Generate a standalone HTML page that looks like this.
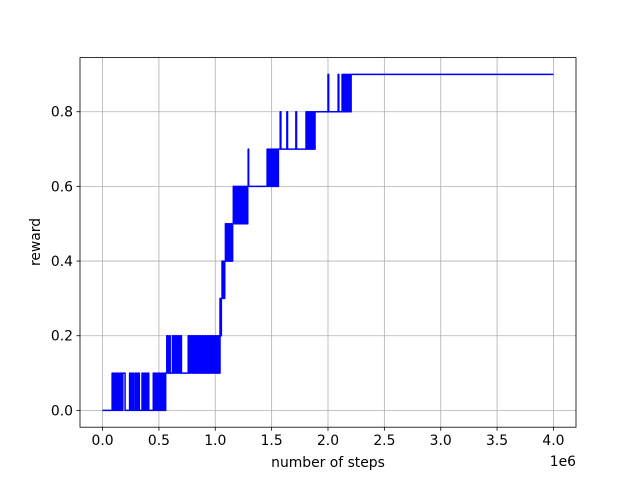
<!DOCTYPE html>
<html><head><meta charset="utf-8"><style>
html,body{margin:0;padding:0;background:#fff;}
svg{display:block;font-family:"DejaVu Sans","Liberation Sans",sans-serif;}
</style></head><body>
<svg id="chart" width="640" height="480">
<rect x="0" y="0" width="640" height="480" fill="#fff"/>
<g id="grid"></g>
<g id="series"></g>
<rect x="80" y="57.6" width="496" height="369.6" fill="none" stroke="#000" stroke-width="0.8"/>
<g id="xticks"></g>
<g id="yticks"></g>
<text x="328" y="467" font-size="13.9" text-anchor="middle">number of steps</text>
<text x="576" y="466" font-size="13.9" text-anchor="end">1e6</text>
<text transform="translate(40,242) rotate(-90)" font-size="13.9" text-anchor="middle">reward</text>
</svg>
<script>
const xTicks = [0, 0.5, 1.0, 1.5, 2.0, 2.5, 3.0, 3.5, 4.0];
const xTickLabels = ["0.0","0.5","1.0","1.5","2.0","2.5","3.0","3.5","4.0"];
const yTicks = [0, 0.2, 0.4, 0.6, 0.8];
const yTickLabels = ["0.0","0.2","0.4","0.6","0.8"];
const steps = [
0,
0.085,0.085,0.097,0.097,0.109,0.109,0.121,0.121,
0.133,0.133,0.145,0.145,0.157,0.157,0.169,0.169,
0.18,0.18,0.2,0.2,
0.24,0.24,0.252,0.252,0.264,0.264,0.276,0.276,
0.29,0.29,0.302,0.302,0.314,0.314,0.326,0.326,
0.35,0.35,0.362,0.362,0.374,0.374,0.386,0.386,
0.398,0.398,0.41,0.41,
0.45,0.45,0.462,0.462,0.474,0.474,0.486,0.486,
0.498,0.498,0.51,0.51,0.522,0.522,0.534,0.534,
0.546,0.546,0.558,0.558,
0.56,0.56,
0.57,0.57,0.582,0.582,0.594,0.594,0.6,0.6,
0.62,0.62,0.632,0.632,0.644,0.644,0.656,0.656,
0.668,0.668,0.68,0.68,0.692,0.692,0.7,0.7,
0.76,0.76,0.772,0.772,0.784,0.784,0.796,0.796,
0.808,0.808,0.82,0.82,0.832,0.832,0.844,0.844,
0.856,0.856,0.868,0.868,0.88,0.88,0.892,0.892,
0.904,0.904,0.916,0.916,0.928,0.928,0.94,0.94,
0.952,0.952,0.964,0.964,0.976,0.976,0.988,0.988,
1.0,1.0,1.012,1.012,1.024,1.024,1.036,1.036,
1.042,1.042,1.048,1.048,1.054,1.054,
1.06,1.06,1.066,1.066,1.072,1.072,1.078,1.078,1.084,1.084,
1.09,1.09,1.098,1.098,1.106,1.106,1.114,1.114,
1.122,1.122,1.13,1.13,1.138,1.138,1.146,1.146,1.154,1.154,
1.16,1.16,1.168,1.168,1.176,1.176,1.184,1.184,
1.192,1.192,1.2,1.2,1.208,1.208,1.216,1.216,
1.224,1.224,1.232,1.232,1.24,1.24,1.25,1.25,
1.258,1.258,1.266,1.266,1.274,1.274,1.282,1.282,
1.288,1.288,1.292,1.292,1.296,1.296,
1.46,1.46,1.47,1.47,1.48,1.48,1.49,1.49,
1.5,1.5,1.51,1.51,1.52,1.52,1.53,1.53,
1.54,1.54,1.55,1.55,1.56,1.56,
1.576,1.576,1.582,1.582,1.635,1.635,1.641,1.641,
1.715,1.715,1.721,1.721,
1.805,1.805,1.813,1.813,1.821,1.821,1.829,1.829,
1.837,1.837,1.845,1.845,1.853,1.853,1.861,1.861,
1.869,1.869,1.877,1.877,1.885,1.885,
2.0,2.0,2.006,2.006,2.09,2.09,2.096,2.096,
2.125,2.125,2.135,2.135,2.145,2.145,2.155,2.155,
2.165,2.165,2.175,2.175,2.185,2.185,2.195,2.195,
2.205,2.205,
4.0
];
const rewards = [
0,
0,0.1,0.1,0,0,0.1,0.1,0,
0,0.1,0.1,0,0,0.1,0.1,0,
0,0.1,0.1,0,
0,0.1,0.1,0,0,0.1,0.1,0,
0,0.1,0.1,0,0,0.1,0.1,0,
0,0.1,0.1,0,0,0.1,0.1,0,
0,0.1,0.1,0,
0,0.1,0.1,0,0,0.1,0.1,0,
0,0.1,0.1,0,0,0.1,0.1,0,
0,0.1,0.1,0,
0,0.1,
0.1,0.2,0.2,0.1,0.1,0.2,0.2,0.1,
0.1,0.2,0.2,0.1,0.1,0.2,0.2,0.1,
0.1,0.2,0.2,0.1,0.1,0.2,0.2,0.1,
0.1,0.2,0.2,0.1,0.1,0.2,0.2,0.1,
0.1,0.2,0.2,0.1,0.1,0.2,0.2,0.1,
0.1,0.2,0.2,0.1,0.1,0.2,0.2,0.1,
0.1,0.2,0.2,0.1,0.1,0.2,0.2,0.1,
0.1,0.2,0.2,0.1,0.1,0.2,0.2,0.1,
0.1,0.2,0.2,0.1,0.1,0.2,0.2,0.1,
0.1,0.3,0.3,0.2,0.2,0.3,
0.3,0.4,0.4,0.3,0.3,0.4,0.4,0.3,0.3,0.4,
0.4,0.5,0.5,0.4,0.4,0.5,0.5,0.4,
0.4,0.5,0.5,0.4,0.4,0.5,0.5,0.4,0.4,0.5,
0.5,0.6,0.6,0.5,0.5,0.6,0.6,0.5,
0.5,0.6,0.6,0.5,0.5,0.6,0.6,0.5,
0.5,0.6,0.6,0.5,0.5,0.6,0.6,0.5,
0.5,0.6,0.6,0.5,0.5,0.6,0.6,0.5,
0.5,0.6,0.6,0.7,0.7,0.6,
0.6,0.7,0.7,0.6,0.6,0.7,0.7,0.6,
0.6,0.7,0.7,0.6,0.6,0.7,0.7,0.6,
0.6,0.7,0.7,0.6,0.6,0.7,
0.7,0.8,0.8,0.7,0.7,0.8,0.8,0.7,
0.7,0.8,0.8,0.7,
0.7,0.8,0.8,0.7,0.7,0.8,0.8,0.7,
0.7,0.8,0.8,0.7,0.7,0.8,0.8,0.7,
0.7,0.8,0.8,0.7,0.7,0.8,
0.8,0.9,0.9,0.8,0.8,0.9,0.9,0.8,
0.8,0.9,0.9,0.8,0.8,0.9,0.9,0.8,
0.8,0.9,0.9,0.8,0.8,0.9,0.9,0.8,
0.8,0.9,
0.9
];
const NS = "http://www.w3.org/2000/svg";
const L = 80, R = 576, T = 57.6, B = 427.2;
const xMin = -0.2, xMax = 4.2, yMin = -0.045, yMax = 0.945;
function xs(v){ return L + (v - xMin) / (xMax - xMin) * (R - L); }
function ys(v){ return B - (v - yMin) / (yMax - yMin) * (B - T); }
function mk(tag, attrs, parent){ const e = document.createElementNS(NS, tag); for (const k in attrs) e.setAttribute(k, attrs[k]); parent.appendChild(e); return e; }
const grid = document.getElementById('grid');
const xg = document.getElementById('xticks');
const yg = document.getElementById('yticks');
xTicks.forEach((t, i) => {
  const x = xs(t);
  const gl = mk('line', {x1:x, x2:x, y1:T, y2:B, stroke:'#b0b0b0', 'stroke-width':0.8}, grid);
  
  
  const tk = mk('line', {x1:x, x2:x, y1:B, y2:B+3.5, stroke:'#000', 'stroke-width':0.8}, xg);
  
  
  const tx = mk('text', {x:x, y:B+18, 'font-size':13.9, 'text-anchor':'middle'}, xg);
  tx.textContent = xTickLabels[i];
  
  
});
yTicks.forEach((t, i) => {
  const y = ys(t);
  const gl = mk('line', {x1:L, x2:R, y1:y, y2:y, stroke:'#b0b0b0', 'stroke-width':0.8}, grid);
  
  
  const tk = mk('line', {x1:L-3.5, x2:L, y1:y, y2:y, stroke:'#000', 'stroke-width':0.8}, yg);
  
  
  const tx = mk('text', {x:L-7, y:y+5, 'font-size':13.9, 'text-anchor':'end'}, yg);
  tx.textContent = yTickLabels[i];
  
  
});
const n = Math.min(steps.length, rewards.length);
let pts = [];
for (let i = 0; i < n; i++) pts.push(xs(steps[i]).toFixed(2) + ',' + ys(rewards[i]).toFixed(2));
const pl = mk('polyline', {points: pts.join(' '), fill:'none', stroke:'#0000ff', 'stroke-width':1.5, 'stroke-linejoin':'round'}, document.getElementById('series'));


</script>
</body></html>
